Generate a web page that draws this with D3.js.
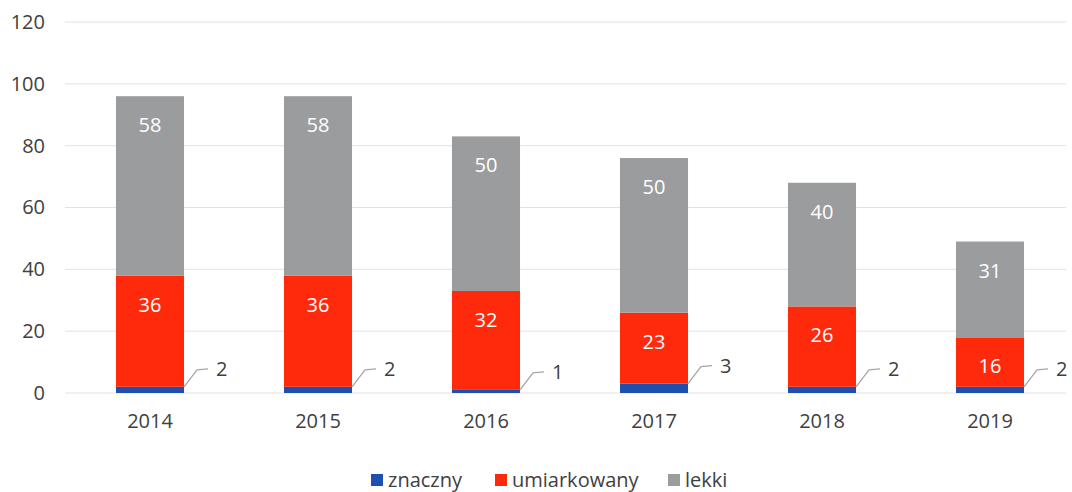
<!DOCTYPE html>
<html><head><meta charset="utf-8">
<script src="https://cdn.jsdelivr.net/npm/d3@7"></script>
<style>body{margin:0;background:#fff;} svg{display:block;font-family:"Open Sans",sans-serif;}</style>
</head><body><svg id="c" width="1072" height="492"></svg>
<script>
const years = ["2014","2015","2016","2017","2018","2019"];
const znaczny = [2,2,1,3,2,2];
const umiarkowany = [36,36,32,23,26,16];
const lekki = [58,58,50,50,40,31];
const seriesNames = ["znaczny","umiarkowany","lekki"];
const seriesColors = ["#1d4fae","#ff2a0c","#9b9c9e"];
const yTicks = [0,20,40,60,80,100,120];

const svg = d3.select("#c");
const x = d3.scaleBand().domain(years).range([66,1074]).paddingInner(0.595).paddingOuter(0.2975);
const y = d3.scaleLinear().domain([0,120]).range([393,22]);

const rows = years.map((yr,i)=>({year:yr, znaczny:znaczny[i], umiarkowany:umiarkowany[i], lekki:lekki[i]}));
const stacked = d3.stack().keys(seriesNames)(rows);

// grid
svg.append("g").selectAll("line").data(yTicks).join("line")
  .attr("x1",65).attr("x2",1066).attr("y1",d=>y(d)).attr("y2",d=>y(d))
  .attr("stroke","#e2e2e2").attr("stroke-width",1);

// y axis labels
const yAxis = d3.axisLeft(y).tickValues(yTicks).tickSize(0).tickPadding(0);
const ya = svg.append("g").attr("transform","translate(45,0)").call(yAxis);
ya.select(".domain").remove();
ya.selectAll("text").attr("font-size",20).attr("fill","#404040").attr("font-family","Open Sans, sans-serif");

// x axis labels
const xAxis = d3.axisBottom(x).tickSize(0).tickPadding(0);
const xa = svg.append("g").attr("transform","translate(0,414)").call(xAxis);
xa.select(".domain").remove();
xa.selectAll("text").attr("font-size",20).attr("fill","#404040").attr("font-family","Open Sans, sans-serif");

// bars
const layers = svg.append("g").selectAll("g").data(stacked).join("g")
  .attr("fill",(d,i)=>seriesColors[i]);
layers.selectAll("rect").data(d=>d).join("rect")
  .attr("x",d=>x(d.data.year)).attr("width",x.bandwidth())
  .attr("y",d=>y(d[1])).attr("height",d=>y(d[0])-y(d[1]));

// labels inside end for umiarkowany and lekki
stacked.slice(1).forEach(layer=>{
  svg.append("g").selectAll("text").data(layer).join("text")
    .attr("x",d=>x(d.data.year)+x.bandwidth()/2)
    .attr("y",d=>y(d[1])+29)
    .attr("dy","0.35em").attr("text-anchor","middle")
    .attr("font-size",20).attr("fill","#fff")
    .text(d=>d[1]-d[0]);
});

// leader labels for znaczny
const zl = svg.append("g");
stacked[0].forEach(d=>{
  const x0 = x(d.data.year)+x.bandwidth();
  const y0 = y(d[1]);
  zl.append("path")
    .attr("d",`M${x0},${y0} L${x0+13},${y0-17} L${x0+24},${y0-18}`)
    .attr("fill","none").attr("stroke","#a6a6a6").attr("stroke-width",1.3);
  zl.append("text").attr("x",x0+32).attr("y",y0-18).attr("dy","0.35em")
    .attr("font-size",20).attr("fill","#404040").text(d[1]-d[0]);
});

// legend
const legX = [371,495,668];
const leg = svg.append("g");
seriesNames.forEach((n,i)=>{
  leg.append("rect").attr("x",legX[i]).attr("y",474).attr("width",12).attr("height",12).attr("fill",seriesColors[i]);
  leg.append("text").attr("x",legX[i]+17).attr("y",480).attr("dy","0.35em")
    .attr("font-size",20).attr("fill","#404040").text(n);
});
</script></body></html>
